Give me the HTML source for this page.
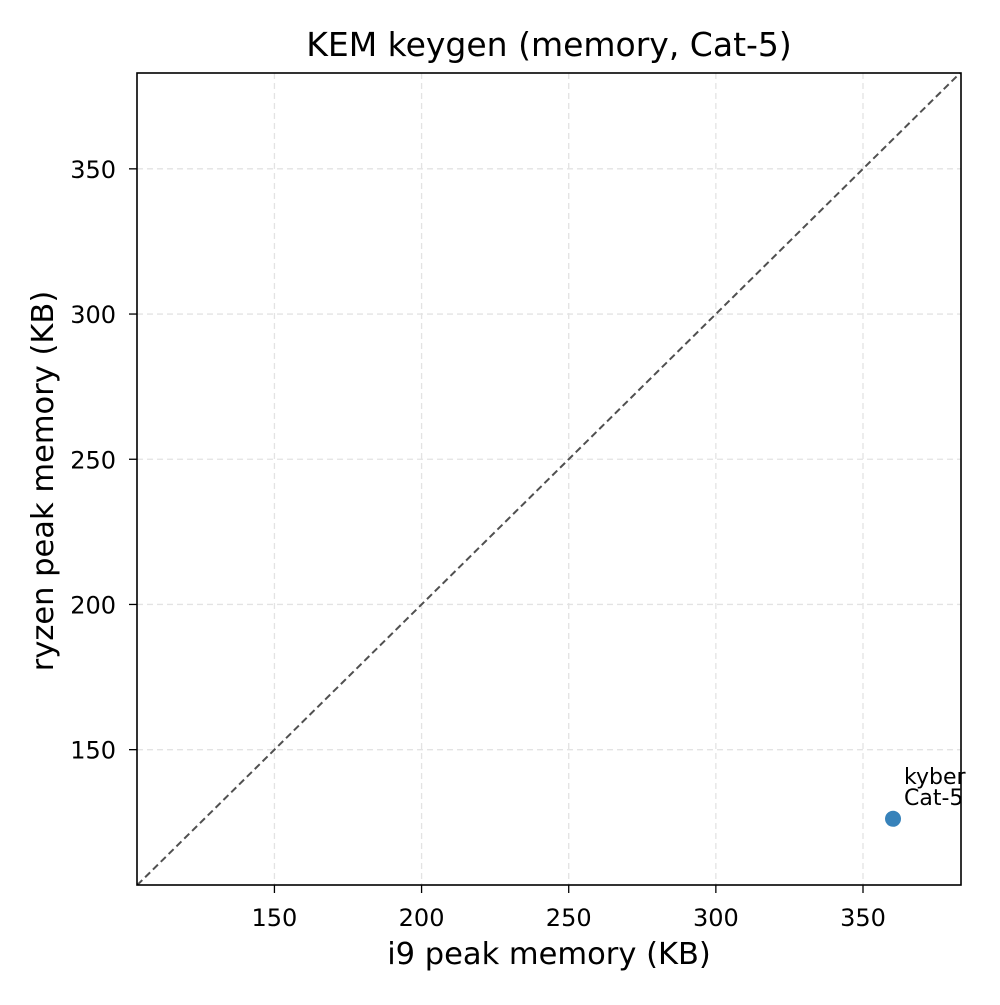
<!DOCTYPE html>
<html><head><meta charset="utf-8"><style>
body{margin:0;background:#fff;}
svg text{font-family:"DejaVu Sans","Liberation Sans",sans-serif;}
</style></head><body>
<svg id="chart" width="1000" height="1000" viewBox="0 0 1000 1000" xmlns="http://www.w3.org/2000/svg">
<rect width="1000" height="1000" fill="#fff"/>
<g id="grid"></g>
<g id="diag"></g>
<g id="points"></g>
<rect x="137" y="73" width="824" height="812" fill="none" stroke="#000" stroke-width="1.6"/>
<g id="xticks"></g>
<g id="yticks"></g>
<text x="549" y="56" font-size="33" text-anchor="middle">KEM keygen (memory, Cat-5)</text>
<text x="549" y="964" font-size="30.5" text-anchor="middle">i9 peak memory (KB)</text>
<text transform="translate(53,481) rotate(-90)" font-size="30.5" text-anchor="middle">ryzen peak memory (KB)</text>
</svg>
<script>
const xTicks=[150,200,250,300,350];
const yTicks=[150,200,250,300,350];
const labels=["kyber\nCat-5"];
const xVals=[360.2];
const yVals=[126.2];
const xMin=103.3,xMax=383.3,yMin=103.4,yMax=383.0;
const L=137,R=961,T=73,B=885;
const ns="http://www.w3.org/2000/svg";
const sx=v=>L+(v-xMin)/(xMax-xMin)*(R-L);
const sy=v=>B-(v-yMin)/(yMax-yMin)*(B-T);
function mk(tag,attrs,parent){const e=document.createElementNS(ns,tag);for(const k in attrs)e.setAttribute(k,attrs[k]);parent.appendChild(e);return e;}
const grid=document.getElementById('grid'),xt=document.getElementById('xticks'),yt=document.getElementById('yticks');
xTicks.forEach(v=>{const x=sx(v);
 const g=mk('line',{x1:x,x2:x,y1:T,y2:B,stroke:'#e3e3e3','stroke-width':1.3,'stroke-dasharray':'6,4'},grid);
 
 
 const t=mk('line',{x1:x,x2:x,y1:B,y2:B+8,stroke:'#000','stroke-width':1.3},xt);
 
 
 const l=mk('text',{x:x,y:B+41,'font-size':24,'text-anchor':'middle'},xt);l.textContent=v;
 
 
});
yTicks.forEach(v=>{const y=sy(v);
 const g=mk('line',{x1:L,x2:R,y1:y,y2:y,stroke:'#e3e3e3','stroke-width':1.3,'stroke-dasharray':'6,4'},grid);
 
 
 const t=mk('line',{x1:L-8,x2:L,y1:y,y2:y,stroke:'#000','stroke-width':1.3},yt);
 
 
 const l=mk('text',{x:L-21,y:y+9,'font-size':24,'text-anchor':'end'},yt);l.textContent=v;
 
 
});
const lo=Math.max(xMin,yMin),hi=Math.min(xMax,yMax);
const d=mk('line',{x1:sx(lo),y1:sy(lo),x2:sx(hi),y2:sy(hi),stroke:'#505050','stroke-width':2,'stroke-dasharray':'7,4'},document.getElementById('diag'));


const pts=document.getElementById('points');
xVals.forEach((v,i)=>{const cx=sx(v),cy=sy(yVals[i]);
 const c=mk('circle',{cx:cx,cy:cy,r:8,fill:'#2c7bb6','fill-opacity':0.95},pts);
 
 
 const lines=labels[i].split('\n');
 lines.forEach((s,j)=>{const t=mk('text',{x:cx+11,y:cy-35+j*21,'font-size':22},pts);t.textContent=s;
  
  });
});
</script>
</body></html>
